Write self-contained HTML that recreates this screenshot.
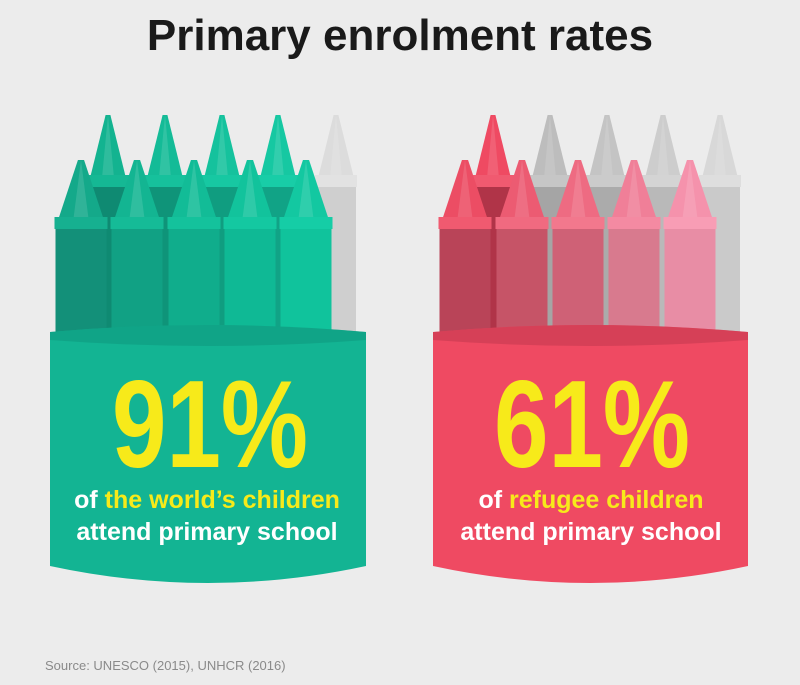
<!DOCTYPE html>
<html><head><meta charset="utf-8"><style>
html,body{margin:0;padding:0;background:#ececec;}
svg{display:block;}
text{font-family:"Liberation Sans",sans-serif;}
</style></head><body>
<svg width="800" height="685" viewBox="0 0 800 685" xmlns="http://www.w3.org/2000/svg">
<rect width="800" height="685" fill="#ececec"/>
<text x="400" y="50" text-anchor="middle" font-size="44" font-weight="bold" fill="#1a1a1a">Primary enrolment rates</text>
<g id="g"></g>
<path d="M50,332 Q208,318 366,332 L366,566 Q208,600 50,566 Z" fill="#13b493"/>
<path d="M50,332 Q208,318 366,332 L366,340 Q208,352 50,340 Z" fill="#0f9a7e" opacity="0.6"/>
<path d="M433,332 Q590,318 748,332 L748,566 Q590,600 433,566 Z" fill="#ef4a62"/>
<path d="M433,332 Q590,318 748,332 L748,340 Q590,352 433,340 Z" fill="#c53a50" opacity="0.6"/>
<text x="112" y="467" font-size="124" font-weight="bold" fill="#f7ea1a" textLength="196" lengthAdjust="spacingAndGlyphs">91%</text>
<text x="207" y="508" text-anchor="middle" font-size="25" font-weight="bold" fill="#f7ea1a"><tspan fill="#fff">of</tspan> the world’s children</text>
<text x="207" y="540" text-anchor="middle" font-size="25" font-weight="bold" fill="#fff">attend primary school</text>
<text x="494" y="467" font-size="124" font-weight="bold" fill="#f7ea1a" textLength="196" lengthAdjust="spacingAndGlyphs">61%</text>
<text x="591" y="508" text-anchor="middle" font-size="25" font-weight="bold" fill="#f7ea1a"><tspan fill="#fff">of</tspan> refugee children</text>
<text x="591" y="540" text-anchor="middle" font-size="25" font-weight="bold" fill="#fff">attend primary school</text>
<text x="45" y="670" font-size="13" fill="#8a8a8a">Source: UNESCO (2015), UNHCR (2016)</text>
</svg>
<script>
var g=document.getElementById('g'),s='';
function cr(cx,tip,colY,w,body,tipc,colc,bodyc){
 var tw=w*0.86,h=w/2,tt=w*0.12;
 s+='<rect x="'+(cx-h)+'" y="'+(colY+12)+'" width="'+w+'" height="'+(340-colY-12)+'" fill="'+bodyc+'"/>';
 s+='<polygon points="'+(cx-tt/2)+','+tip+' '+(cx+tt/2)+','+tip+' '+(cx+tw/2)+','+colY+' '+(cx-tw/2)+','+colY+'" fill="'+tipc+'"/>';
 s+='<polygon points="'+cx+','+tip+' '+(cx+tw/6)+','+colY+' '+(cx-tw/6)+','+colY+'" fill="#fff" opacity="0.12"/>';
 s+='<rect x="'+(cx-h-1)+'" y="'+colY+'" width="'+(w+2)+'" height="12" fill="'+colc+'"/>';
}
var lb=[108,165,222,278,336],rb=[493,550,607,663,720];
var lbc=[['#13b390','#15b894','#0f8a72'],['#14bb97','#16c19c','#0f9479'],['#15c29d','#17c8a2','#109d80'],['#16c8a2','#18cda7','#11a386'],['#dcdcdc','#e2e2e2','#cfcfcf']];
var rbc=[['#ef4a62','#f05a70','#b03448'],['#bdbdbd','#c6c6c6','#a5a5a5'],['#c4c4c4','#cbcbcb','#ababab'],['#cdcdcd','#d4d4d4','#b9b9b9'],['#d8d8d8','#dedede','#cacaca']];
for(var i=0;i<5;i++){cr(lb[i],115,175,40,0,lbc[i][0],lbc[i][1],lbc[i][2]);cr(rb[i],115,175,40,0,rbc[i][0],rbc[i][1],rbc[i][2]);}
var lf=[81,137,194,250,306],rf=[465,522,578,634,690];
var lfc=[['#14a98a','#16b090','#139079'],['#13b592','#15bb97','#11a184'],['#12bc97','#14c29c','#10ad8c'],['#12c39c','#14c8a1','#0fb995'],['#13c8a1','#15cda6','#10c39c']];
var rfc=[['#ec4d64','#f05a70','#b94458'],['#ec5b72','#f06a80','#c65467'],['#ee6b82','#f2788d','#cf6176'],['#f07f98','#f48aa2','#d87a8e'],['#f592ac','#f89db5','#e88da5']];
for(var i=0;i<5;i++){cr(lf[i],160,217,51,0,lfc[i][0],lfc[i][1],lfc[i][2]);cr(rf[i],160,217,51,0,rfc[i][0],rfc[i][1],rfc[i][2]);}
g.innerHTML=s;
</script>
</body></html>
